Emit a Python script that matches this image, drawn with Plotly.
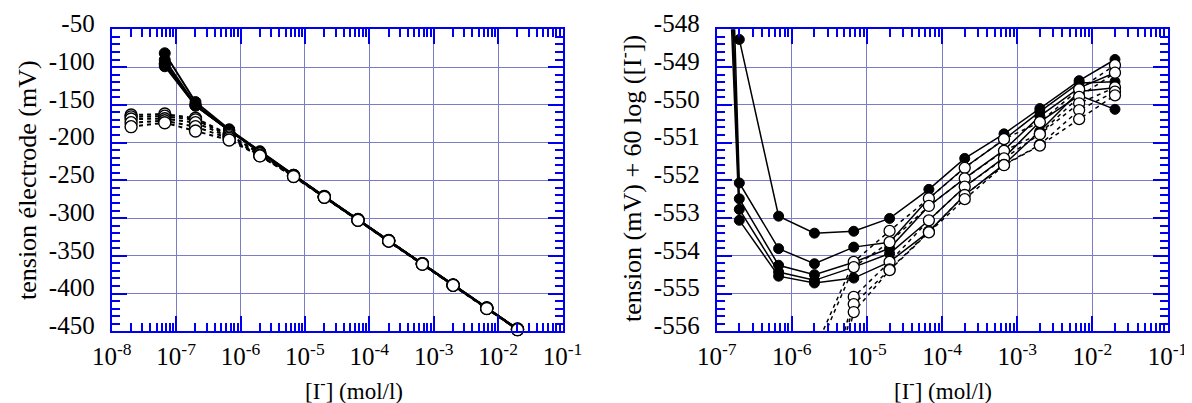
import numpy as np
import plotly.graph_objects as go

# iodide concentrations (mol/l)
conc = [2e-8, 6.667e-8, 2e-7, 6.667e-7, 2e-6, 6.667e-6, 2e-5, 6.667e-5,
        2e-4, 6.667e-4, 2e-3, 6.667e-3, 2e-2]

# corrected potential: tension (mV) + 60 log([I-])  -- filled symbols (solid lines)
filled_1 = [None, -512.3, -548.27, -552.95, -553.40, -553.35, -553.01, -552.24, -551.42, -550.77, -550.10, -549.36, -548.80]
filled_2 = [None, -521.0, -552.07, -553.81, -554.21, -553.77, -553.64, -552.48, -551.66, -550.92, -550.18, -549.42, -549.39]
filled_3 = [None, -525.5, -552.49, -554.25, -554.50, -554.17, -553.80, -552.68, -551.95, -551.20, -550.30, -549.55, -549.15]
filled_4 = [None, -527.0, -552.77, -554.43, -554.65, -554.30, -553.94, -553.06, -552.17, -551.40, -550.45, -549.75, -550.12]
filled_5 = [None, -529.5, -553.06, -554.54, -554.72, -554.59, -554.16, -553.36, -552.39, -551.58, -550.70, -549.65, -549.55]

# open symbols (dashed lines)
open_1 = [-625.4, -592.8, -569.8, -559.7, -556.5, -554.16, -553.34, -552.48, -551.67, -550.91, -550.46, -549.59, -548.95]
open_2 = [-627.9, -595.6, -571.9, -561.1, -556.7, -554.30, -553.64, -552.68, -551.95, -551.22, -550.76, -549.79, -549.15]
open_3 = [-630.7, -599.0, -575.6, -563.1, -559.0, -555.09, -554.16, -553.06, -552.17, -551.42, -550.78, -549.96, -549.54]
open_4 = [-635.6, -601.6, -580.9, -565.0, -559.3, -555.28, -554.36, -553.36, -552.39, -551.59, -551.06, -550.14, -549.65]
open_5 = [-640.9, -604.3, -586.6, -567.2, -559.6, -555.49, -554.38, -553.38, -552.50, -551.60, -551.08, -550.38, -549.75]

filled_series = [filled_1, filled_2, filled_3, filled_4, filled_5]
open_series = [open_1, open_2, open_3, open_4, open_5]

left_ticks = [-450, -400, -350, -300, -250, -200, -150, -100, -50]
right_ticks = [-556, -555, -554, -553, -552, -551, -550, -549, -548]
left_decades = [1e-8, 1e-7, 1e-6, 1e-5, 1e-4, 1e-3, 1e-2, 1e-1]
left_dec_text = ["10<sup>-8</sup>", "10<sup>-7</sup>", "10<sup>-6</sup>", "10<sup>-5</sup>",
                 "10<sup>-4</sup>", "10<sup>-3</sup>", "10<sup>-2</sup>", "10<sup>-1</sup>"]
right_decades = left_decades[1:]
right_dec_text = left_dec_text[1:]


def split(vals):
    xs, corr, tens = [], [], []
    for c, v in zip(conc, vals):
        if v is None:
            continue
        xs.append(c)
        corr.append(v)
        tens.append(v - 60 * np.log10(c))
    return xs, corr, tens


FONT = "Liberation Serif"
fig = go.Figure()

# lines first
for grp, dash in ((filled_series, "solid"), (open_series, "4px,4px")):
    for s in grp:
        xs, corr, tens = split(s)
        fig.add_trace(go.Scatter(x=xs, y=tens, mode="lines", xaxis="x", yaxis="y",
                                 line=dict(color="black", width=2, dash=dash), hoverinfo="skip"))
        fig.add_trace(go.Scatter(x=xs, y=corr, mode="lines", xaxis="x2", yaxis="y2",
                                 line=dict(color="black", width=1.5, dash=dash), hoverinfo="skip"))
# filled markers
for s in filled_series:
    xs, corr, tens = split(s)
    fig.add_trace(go.Scatter(x=xs, y=tens, mode="markers", xaxis="x", yaxis="y", cliponaxis=False,
                             marker=dict(symbol="circle", size=11, color="black",
                                         line=dict(color="black", width=1))))
    fig.add_trace(go.Scatter(x=xs, y=corr, mode="markers", xaxis="x2", yaxis="y2",
                             marker=dict(symbol="circle", size=10, color="black",
                                         line=dict(color="black", width=1))))
# open markers
for s in open_series:
    xs, corr, tens = split(s)
    fig.add_trace(go.Scatter(x=xs, y=tens, mode="markers", xaxis="x", yaxis="y", cliponaxis=False,
                             marker=dict(symbol="circle", size=12, color="white",
                                         line=dict(color="black", width=1.4))))
    fig.add_trace(go.Scatter(x=xs, y=corr, mode="markers", xaxis="x2", yaxis="y2",
                             marker=dict(symbol="circle", size=11, color="white",
                                         line=dict(color="black", width=1.3))))

# page body has an 8px margin: figure is offset by 8px on screen
OFF = 8
W, H = 1192 - OFF, 403 - OFF
GRID = "#7b7bc6"
AX = "#0000ee"


def px(x):
    return (x - OFF) / W


def py(y):
    return 1 - (y - OFF) / H


def minor_log(lo, hi):
    return [m * 10.0 ** k for k in range(lo, hi) for m in range(2, 10)]


common_x = dict(type="log", showgrid=True, gridcolor=GRID, gridwidth=1, zeroline=False,
                showline=True, linecolor=AX, linewidth=2, mirror="allticks",
                ticks="inside", ticklen=15, tickwidth=2, tickcolor=AX, automargin=False,
                tickmode="array", tickfont=dict(family=FONT, size=25, color="black"),
                ticklabelstandoff=2)
common_y = dict(showgrid=True, gridcolor=GRID, gridwidth=1, zeroline=False,
                showline=True, linecolor=AX, linewidth=2, mirror="allticks",
                ticks="inside", ticklen=15, tickwidth=2, tickcolor=AX, automargin=False,
                tickmode="array", tickfont=dict(family=FONT, size=25, color="black"),
                ticklabelstandoff=10, ticklabelshift=-6)

ydom = [py(331.3), py(29.3)]
fig.update_layout(
    width=W, height=H, margin=dict(l=0, r=0, t=0, b=0, autoexpand=False),
    paper_bgcolor="white", plot_bgcolor="white", showlegend=False,
    xaxis=dict(common_x, domain=[px(111.7), px(562.5)], range=[-8, -1],
               tickvals=left_decades, ticktext=left_dec_text, anchor="y",
               minor=dict(ticks="inside", ticklen=8, tickwidth=1.5, tickcolor=AX,
                          tickvals=minor_log(-8, -1), showgrid=False)),
    yaxis=dict(common_y, domain=ydom, range=[-450, -50],
               tickvals=left_ticks, ticktext=[str(v) for v in left_ticks], anchor="x",
               minor=dict(ticks="inside", ticklen=8, tickwidth=1.5, tickcolor=AX,
                          tickmode="linear", tick0=0, dtick=10, showgrid=False)),
    xaxis2=dict(common_x, domain=[px(716.7), px(1167.5)], range=[-7, -1],
                tickvals=right_decades, ticktext=right_dec_text, anchor="y2",
                minor=dict(ticks="inside", ticklen=8, tickwidth=1.5, tickcolor=AX,
                           tickvals=minor_log(-7, -1), showgrid=False)),
    yaxis2=dict(common_y, domain=ydom, range=[-556, -548],
                tickvals=right_ticks, ticktext=[str(v) for v in right_ticks], anchor="x2",
                minor=dict(ticks="inside", ticklen=8, tickwidth=1.5, tickcolor=AX,
                           tickmode="linear", tick0=0, dtick=0.2, showgrid=False)),
)

ann_font = dict(family=FONT, size=26, color="black")
fig.add_annotation(text="tension électrode (mV)", x=px(27), y=py(180), xref="paper", yref="paper",
                   textangle=-90, showarrow=False, font=ann_font, xanchor="center", yanchor="middle")
fig.add_annotation(text="tension (mV) + 60 log ([I<sup>-</sup>])", x=px(630), y=py(179),
                   xref="paper", yref="paper", textangle=-90, showarrow=False, font=ann_font,
                   xanchor="center", yanchor="middle")
xt_font = dict(family=FONT, size=23, color="black")
fig.add_annotation(text="[I<sup>-</sup>] (mol/l)", x=px(354), y=py(389), xref="paper", yref="paper",
                   showarrow=False, font=xt_font, xanchor="center", yanchor="middle")
fig.add_annotation(text="[I<sup>-</sup>] (mol/l)", x=px(943), y=py(389), xref="paper", yref="paper",
                   showarrow=False, font=xt_font, xanchor="center", yanchor="middle")

fig.write_html("out.html")
